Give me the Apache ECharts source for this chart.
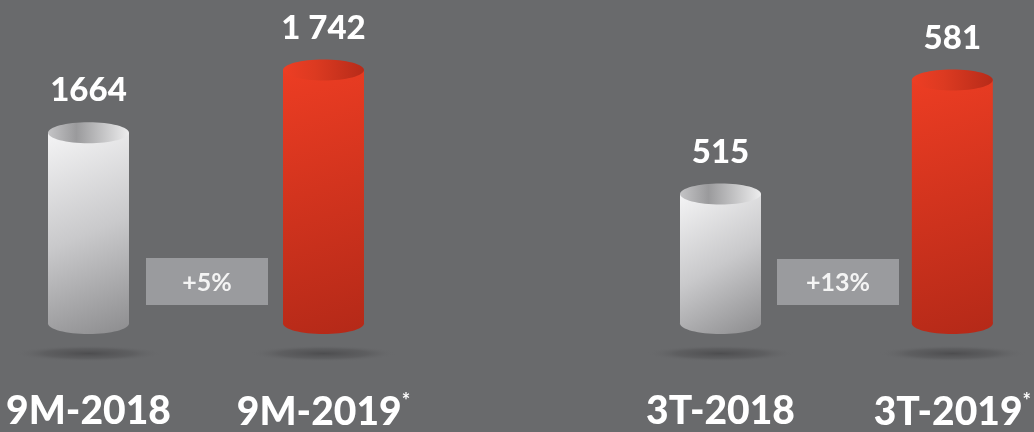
<!DOCTYPE html>
<html>
<head>
<meta charset="utf-8">
<script src="https://cdn.jsdelivr.net/npm/echarts@6/dist/echarts.min.js"></script>
<style>
html,body{margin:0;padding:0;background:#696a6c;}
#chart{width:1034px;height:432px;}
</style>
</head>
<body>
<div id="chart"></div>
<script>
// ---- data ----
var categories9M = ['9M-2018', '9M-2019*'];
var values9M = [1664, 1742];
var valueLabels9M = ['1664', '1 742'];
var categories3T = ['3T-2018', '3T-2019*'];
var values3T = [515, 581];
var valueLabels3T = ['515', '581'];
var deltas = ['+5%', '+13%'];

var FONT = 'Lato, "Open Sans", sans-serif';

function lg(x1, y1, x2, y2, stops) {
  return new echarts.graphic.LinearGradient(x1, y1, x2, y2, stops, true);
}

function makeRender(labels, yMin) {
  return function (params, api) {
    var idx = api.value(0);
    var val = api.value(1);
    var top = api.coord([idx, val]);
    var base = api.coord([idx, yMin]);
    var cx = top[0], ty = top[1], by = base[1];
    var hw = 40.5, ry = 10.5;
    var isRed = idx === 1;
    var bodyFill = isRed
      ? lg(cx - hw, ty, cx + hw, by + ry, [
          {offset: 0, color: '#ec3d23'},
          {offset: 1, color: '#b42918'}])
      : lg(cx - hw, ty, cx + hw, by + ry, [
          {offset: 0, color: '#f4f4f5'},
          {offset: 0.5, color: '#c9c9cb'},
          {offset: 1, color: '#8c8c8e'}]);
    var topFill = isRed
      ? lg(cx - hw, 0, cx + hw, 0, [
          {offset: 0, color: '#ee3e24'},
          {offset: 0.4, color: '#dc3a21'},
          {offset: 1, color: '#b72b19'}])
      : lg(cx - hw, 0, cx + hw, 0, [
          {offset: 0, color: '#c4c4c6'},
          {offset: 0.35, color: '#9a9a9c'},
          {offset: 1, color: '#ededee'}]);
    var shadow = new echarts.graphic.RadialGradient(0.5, 0.5, 0.5, [
      {offset: 0, color: 'rgba(72,72,74,0.85)'},
      {offset: 0.6, color: 'rgba(80,80,82,0.45)'},
      {offset: 1, color: 'rgba(105,106,108,0)'}]);
    return {
      type: 'group',
      children: [
        {type: 'circle', shape: {cx: 0, cy: 0, r: 74}, x: cx, y: by + 30, scaleY: 0.11,
          style: {fill: shadow}},
        {type: 'ellipse', shape: {cx: cx, cy: by, rx: hw, ry: ry}, style: {fill: bodyFill}},
        {type: 'rect', shape: {x: cx - hw, y: ty, width: hw * 2, height: by - ty}, style: {fill: bodyFill}},
        {type: 'ellipse', shape: {cx: cx, cy: ty, rx: hw, ry: ry}, style: {fill: topFill}},
        {type: 'text', x: cx, y: ty - 42,
          style: {text: labels[idx], fill: '#ffffff', font: '900 33px ' + FONT,
            align: 'center', verticalAlign: 'middle'}}
      ]
    };
  };
}

var min9M = 1426, max9M = 1777;
var min3T = 440, max3T = 603;

var axisLabelCfg = {
  margin: 68,
  interval: 0,
  color: '#ffffff',
  fontFamily: FONT,
  fontWeight: 900,
  fontSize: 39,
  formatter: function (v) { return v.replace('*', '{s|*}'); },
  rich: {s: {fontSize: 20, fontWeight: 'bold', color: '#ffffff', fontFamily: FONT, verticalAlign: 'top', padding: [0, 0, 22, 0]}}
};

var chart = echarts.init(document.getElementById('chart'), null, {renderer: 'canvas'});
chart.setOption({
  backgroundColor: '#696a6c',
  animation: false,
  grid: [
    {left: 88.5, width: 235, top: 42, bottom: 107},
    {left: 720.5, width: 235, top: 42, bottom: 107}
  ],
  xAxis: [
    {gridIndex: 0, type: 'category', data: categories9M, boundaryGap: false,
      axisLine: {show: false}, axisTick: {show: false}, splitLine: {show: false}, axisLabel: axisLabelCfg},
    {gridIndex: 1, type: 'category', data: categories3T, boundaryGap: false,
      axisLine: {show: false}, axisTick: {show: false}, splitLine: {show: false}, axisLabel: axisLabelCfg}
  ],
  yAxis: [
    {gridIndex: 0, type: 'value', min: min9M, max: max9M, show: false},
    {gridIndex: 1, type: 'value', min: min3T, max: max3T, show: false}
  ],
  graphic: [
    {type: 'group', left: 146, top: 258, children: [
      {type: 'rect', shape: {x: 0, y: 0, width: 122, height: 47}, style: {fill: '#9a9b9e'}},
      {type: 'text', x: 61, y: 25, style: {text: deltas[0], fill: '#f4f4f4', font: 'bold 25px ' + FONT, align: 'center', verticalAlign: 'middle'}}
    ]},
    {type: 'group', left: 777, top: 259, children: [
      {type: 'rect', shape: {x: 0, y: 0, width: 122, height: 46}, style: {fill: '#9a9b9e'}},
      {type: 'text', x: 61, y: 24, style: {text: deltas[1], fill: '#f4f4f4', font: 'bold 25px ' + FONT, align: 'center', verticalAlign: 'middle'}}
    ]}
  ],
  series: [
    {type: 'custom', xAxisIndex: 0, yAxisIndex: 0, renderItem: makeRender(valueLabels9M, min9M),
      data: values9M.map(function (v, i) { return [i, v]; }), clip: false},
    {type: 'custom', xAxisIndex: 1, yAxisIndex: 1, renderItem: makeRender(valueLabels3T, min3T),
      data: values3T.map(function (v, i) { return [i, v]; }), clip: false}
  ]
});
</script>
</body>
</html>
